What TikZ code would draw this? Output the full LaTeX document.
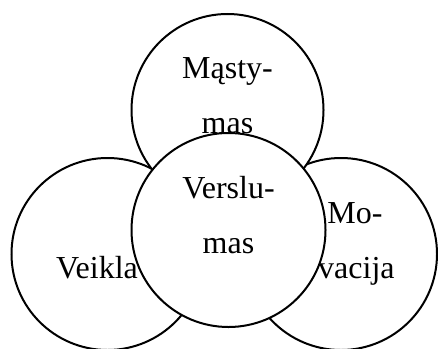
\documentclass[tikz,border=0pt]{standalone}
\usepackage{fontspec}
\setmainfont{Liberation Serif}

\tikzset{
  ring/.style={draw=black, fill=white, circle, line width=1pt, minimum size=96pt, inner sep=0pt},
  word/.style={font=\fontsize{16}{27.5}\selectfont, align=center, inner sep=0pt, anchor=base}
}

\begin{document}
\begin{tikzpicture}[x=0.5pt, y=-0.5pt]

% Frame of the picture
\useasboundingbox (0,0) rectangle (438,348);
\clip (0,0) rectangle (438,348);

% Left and right circles
\node[ring] (veikla) at (107.5,254) {};
\node[ring] (motyv) at (341,254) {};

% Texts of the side circles
\node[word] (veiklatxt) at (97,278) {Veikla};
\node[word, anchor=base west] (motxt) at (327,223) {Mo-};
\node[word, anchor=base east] (vacijatxt) at (395,278) {tyvacija};

% Top circle (base anchor sits on the last line)
\node[ring] (mastym) at (227.5,110) {};
\node[word] (mastymtxt) at (227.5,133) {Mąsty-\\mas};

% Centre circle
\node[ring, minimum size=97pt] (verslum) at (228.5,230) {};
\node[word] (verslumtxt) at (228.5,253) {Verslu-\\mas};

\end{tikzpicture}
\end{document}
